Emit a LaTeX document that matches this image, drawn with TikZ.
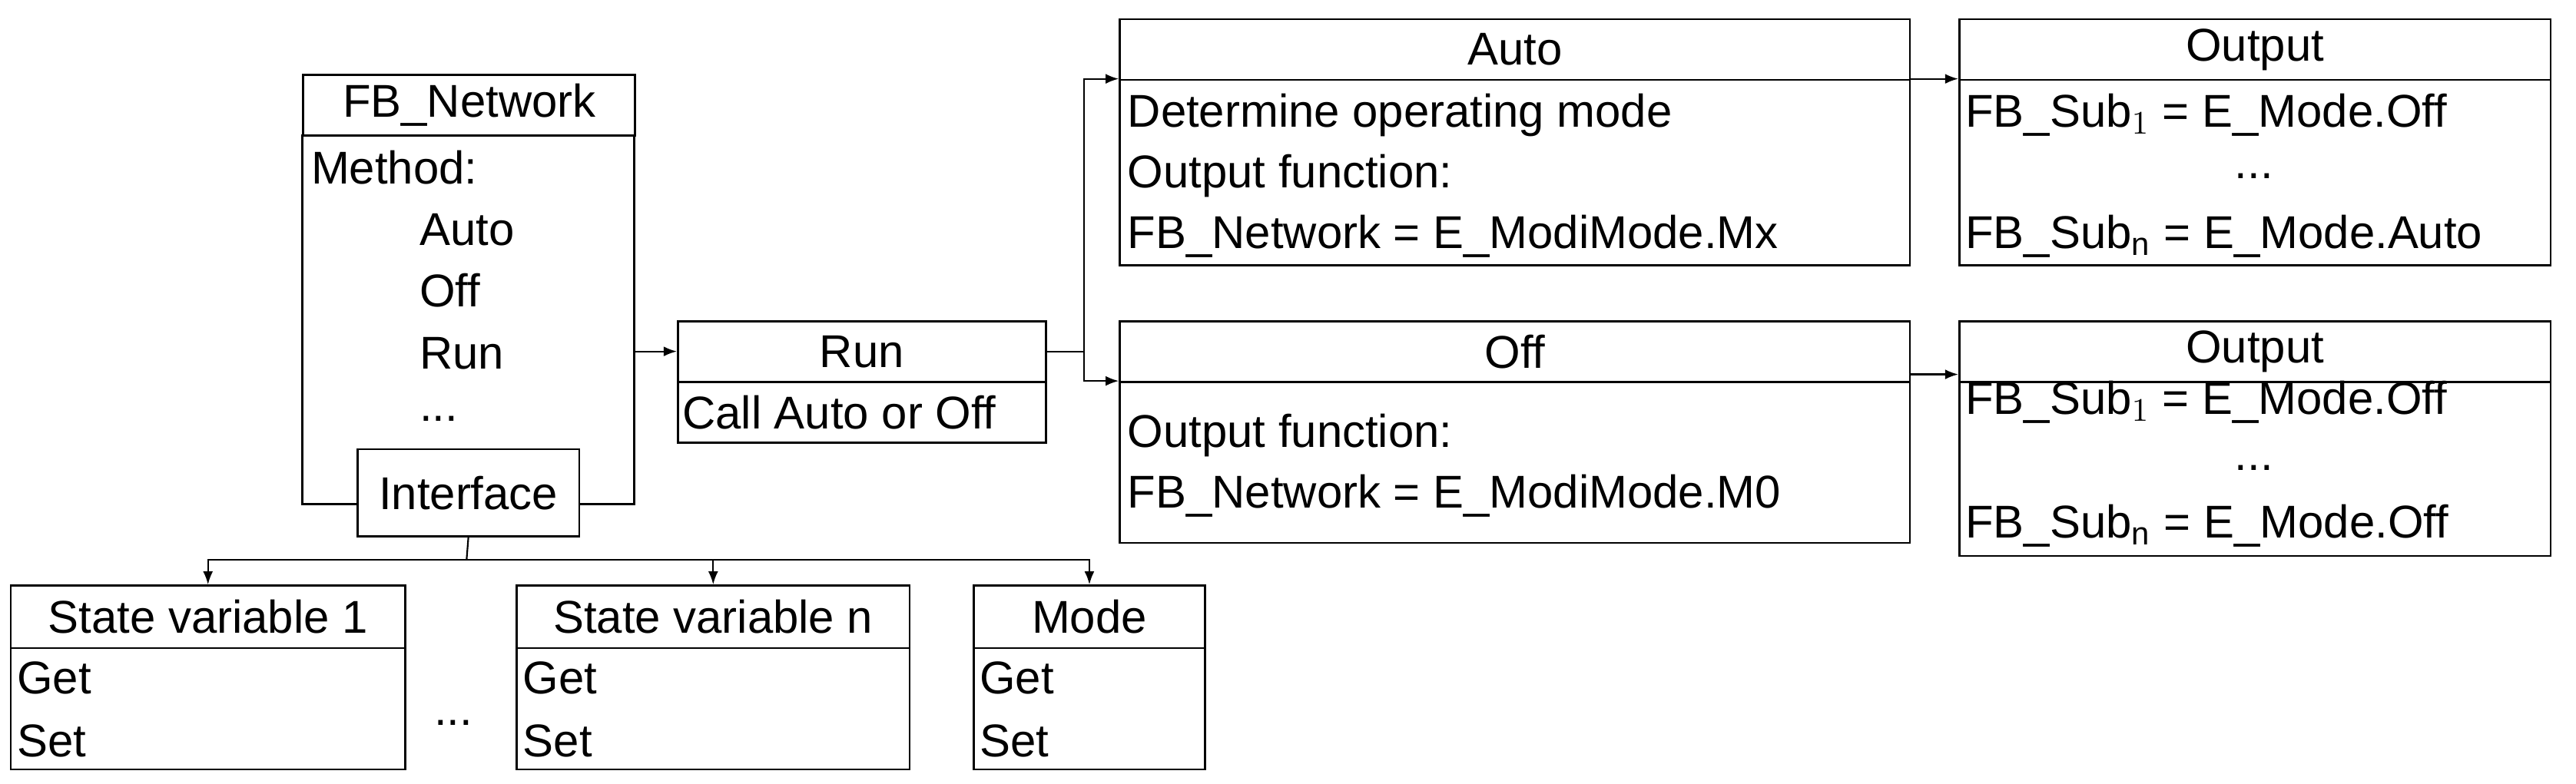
\documentclass[tikz,border=0pt]{standalone}
\usepackage{fontspec}
\setmainfont{Liberation Sans}
\usetikzlibrary{arrows.meta}
\tikzset{
  box/.style={draw, line width=0.6pt, anchor=north west, inner sep=0pt},
  txt/.style={anchor=west, inner sep=0pt, font=\fontsize{14}{16}\selectfont},
  ctr/.style={inner sep=0pt, font=\fontsize{14}{16}\selectfont},
  link/.style={line width=0.5pt, -{Latex[length=4pt,width=3pt]}}
}
\begin{document}
\begin{tikzpicture}[x=0.5pt,y=-0.5pt]
\useasboundingbox (0,0) rectangle (1568,477);
% FB_Network
\node (net) [box, minimum width=101pt, minimum height=18.5pt] at (184,45) {};
\node [ctr] at (net.center) {FB\_Network};
\draw [line width=0.6pt] (184,82) -- (184,307) -- (217,307);
\draw [line width=0.6pt] (386,82) -- (386,307) -- (352,307);
\node (intf) [box, minimum width=67.5pt, minimum height=26.5pt] at (217,273) {};
\node [ctr] at (intf.center) {Interface};
\node [txt] at (189,102) {Method:};
\node [txt] at (255,140) {Auto};
\node [txt] at (255,177) {Off};
\node [txt] at (255,215) {Run};
\node [txt] at (255,255) {...};
\coordinate (netout) at (386,214);
% Run
\node (run) [box, minimum width=112pt, minimum height=18.5pt] at (412,195) {};
\node [ctr] at (run.center) {Run};
\node (runb) [box, minimum width=112pt, minimum height=18.5pt] at (412,232) {};
\node [txt] at (415,251) {Call Auto or Off};
% Auto
\node (auto) [box, minimum width=240.5pt, minimum height=18.5pt] at (681,11) {};
\node [ctr] at (auto.center) {Auto};
\node (autob) [box, minimum width=240.5pt, minimum height=56.5pt] at (681,48) {};
\node [txt] at (686,70) {Determine operating mode};
\node [txt] at (686,107) {Output function:};
\node [txt] at (686,144) {FB\_Network = E\_ModiMode.Mx};
% Off
\node (off) [box, minimum width=240.5pt, minimum height=18.5pt] at (681,195) {};
\node [ctr] at (off.center) {Off};
\node (offb) [box, minimum width=240.5pt, minimum height=49pt] at (681,232) {};
\node [txt] at (686,265) {Output function:};
\node [txt] at (686,302) {FB\_Network = E\_ModiMode.M0};
% Outputs
\node (out1) [box, minimum width=180pt, minimum height=18.5pt] at (1192,11) {};
\node [ctr] at (out1.center) {Output};
\node (out1b) [box, minimum width=180pt, minimum height=56.5pt] at (1192,48) {};
\node [txt] at (1196,70) {FB\_Sub$_1$ = E\_Mode.Off};
\node [ctr] at (1372,107) {...};
\node [txt] at (1196,144) {FB\_Sub$_\mathrm{n}$ = E\_Mode.Auto};
\node (out2) [box, minimum width=180pt, minimum height=18.5pt] at (1192,195) {};
\node [ctr] at (out2.center) {Output};
\node (out2b) [box, minimum width=180pt, minimum height=53pt] at (1192,232) {};
\node [txt] at (1196,245) {FB\_Sub$_1$ = E\_Mode.Off};
\node [ctr] at (1372,285) {...};
\node [txt] at (1196,320) {FB\_Sub$_\mathrm{n}$ = E\_Mode.Off};
% State variables
\node (sv1) [box, minimum width=120pt, minimum height=19pt] at (6,356) {};
\node [ctr] at (sv1.center) {State variable 1};
\node [box, minimum width=120pt, minimum height=37pt] at (6,394) {};
\node [txt] at (10,413) {Get};
\node [txt] at (10,451) {Set};
\node [ctr] at (276,440) {...};
\node (svn) [box, minimum width=119.5pt, minimum height=19pt] at (314,356) {};
\node [ctr] at (svn.center) {State variable n};
\node [box, minimum width=119.5pt, minimum height=37pt] at (314,394) {};
\node [txt] at (318,413) {Get};
\node [txt] at (318,451) {Set};
\node (mode) [box, minimum width=70.5pt, minimum height=19pt] at (592,356) {};
\node [ctr] at (mode.center) {Mode};
\node [box, minimum width=70.5pt, minimum height=37pt] at (592,394) {};
\node [txt] at (596,413) {Get};
\node [txt] at (596,451) {Set};
% connectors
\coordinate (split) at (660,214);
\coordinate (bus) at (284,341);
\draw [link] (netout) -- (run.west |- netout);
\draw [line width=0.5pt] (run.east |- netout) -- (split);
\draw [link] (split) |- (auto.west |- 0,48);
\draw [link] (split) |- (off.west |- 0,232);
\draw [link] (auto.east |- 0,48) -- (out1.west |- 0,48);
\draw [link] (off.east |- 0,228) -- (out2.west |- 0,228);
\draw [line width=0.5pt] (intf.south) -- (bus);
\draw [link] (bus) -| (sv1.north);
\draw [link] (bus) -| (mode.north);
\draw [link] (svn.north |- bus) -- (svn.north);
\end{tikzpicture}
\end{document}
